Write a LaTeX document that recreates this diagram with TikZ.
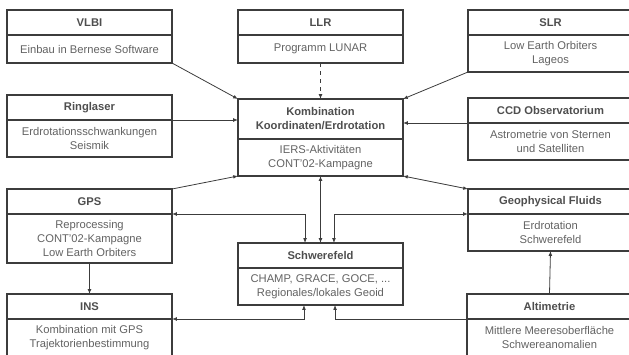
\documentclass[tikz,border=0pt]{standalone}
\usepackage{fontspec}
\setmainfont{Liberation Sans}
\usetikzlibrary{
  positioning,
  calc,
  arrows.meta
}
\definecolor{linecol}{RGB}{60,60,60}
\definecolor{headcol}{RGB}{78,78,78}
\definecolor{bodycol}{RGB}{98,98,98}
\tikzset{
  boxbase/.style={draw=linecol, line width=0.8pt, minimum width=123.75pt,
    inner sep=0pt, outer sep=0pt, align=center},
  head/.style={boxbase, minimum height=18.75pt, text=headcol,
    font=\fontsize{8.4}{10.5}\selectfont\bfseries},
  body/.style={boxbase, text=bodycol, font=\fontsize{8.4}{10.5}\selectfont},
  body1/.style={body, minimum height=21pt},
  body2/.style={body, minimum height=27.75pt},
  body3/.style={body, minimum height=36.75pt},
  link/.style={draw=linecol, line width=0.6pt, -{Latex[length=3.6pt,width=2.8pt]}},
  dlink/.style={draw=linecol, line width=0.6pt,
    {Latex[length=3.6pt,width=2.8pt]}-{Latex[length=3.6pt,width=2.8pt]}}
}

\begin{document}
\begin{tikzpicture}[x=0.75pt, y=-0.75pt]
  \useasboundingbox (0,0) rectangle (629,354);
  \clip (0,0) rectangle (629,354);

  % Top row
  \node[head, anchor=north west] (vlbiH) at (7,10) {VLBI};
  \node[body1, below=0pt of vlbiH] (vlbiB) {Einbau in Bernese Software};
  \node[head, anchor=north west] (llrH) at (238,10) {LLR};
  \node[body1, below=0pt of llrH] (llrB) {Programm LUNAR};
  \node[head, anchor=north west] (slrH) at (468,10) {SLR};
  \node[body2, below=0pt of slrH] (slrB) {Low Earth Orbiters\\Lageos};

  % Second row
  \node[head, anchor=north west] (ringH) at (7,95) {Ringlaser};
  \node[body2, below=0pt of ringH] (ringB) {Erdrotationsschwankungen\\Seismik};
  \node[head, anchor=north west, minimum height=30pt] (kombH) at (238,99)
    {Kombination\\Koordinaten/Erdrotation};
  \node[body2, below=0pt of kombH] (kombB) {IERS-Aktivit\"aten\\CONT'02-Kampagne};
  \node[head, anchor=north west] (ccdH) at (468,98) {CCD Observatorium};
  \node[body2, below=0pt of ccdH] (ccdB) {Astrometrie von Sternen\\und Satelliten};

  % Third row
  \node[head, anchor=north west] (gpsH) at (7,189) {GPS};
  \node[body3, below=0pt of gpsH] (gpsB) {Reprocessing\\CONT'02-Kampagne\\Low Earth Orbiters};
  \node[head, anchor=north west] (geoH) at (468,189) {Geophysical Fluids};
  \node[body2, below=0pt of geoH] (geoB) {Erdrotation\\Schwerefeld};
  \node[head, anchor=north west] (schwH) at (238,243) {Schwerefeld};
  \node[body2, below=0pt of schwH] (schwB) {CHAMP, GRACE, GOCE, ...\\Regionales/lokales Geoid};

  % Bottom row
  \node[head, anchor=north west] (insH) at (7,294) {INS};
  \node[body2, below=0pt of insH] (insB) {Kombination mit GPS\\Trajektorienbestimmung};
  \node[head, anchor=north west] (altH) at (467,294) {Altimetrie};
  \node[body2, below=0pt of altH] (altB) {Mittlere Meeresoberfl\"ache\\Schwereanomalien};

  % Connections to the combination
  \draw[link] (vlbiB.south east) -- (kombH.north west);
  \draw[link, dashed] (llrB.south) -- (kombH.north);
  \draw[link] (slrB.south west) -- (kombH.north east);
  \draw[link] (ringH.south east) -- (ringH.south east -| kombH.west);
  \draw[link] (ccdH.south west) -- (ccdH.south west -| kombH.east);
  \draw[link] (gpsH.north east) -- (kombB.south west);
  \draw[dlink] (geoH.north west) -- (kombB.south east);
  \draw[dlink] (kombB.south) -- (schwH.north);

  % Connections to the gravity field
  \draw[dlink] (gpsH.south east) -| ([xshift=-11.6pt]schwH.north);
  \draw[dlink] (geoH.south west) -| ([xshift=10.1pt]schwH.north);
  \draw[dlink] (insH.south east) -| ([xshift=-12.4pt]schwB.south);
  \draw[link] (altH.south west) -| ([xshift=10.9pt]schwB.south);

  % Vertical links
  \draw[link] (gpsB.south) -- (insH.north);
  \draw[link] (altH.north) -- (geoB.south);
\end{tikzpicture}
\end{document}
